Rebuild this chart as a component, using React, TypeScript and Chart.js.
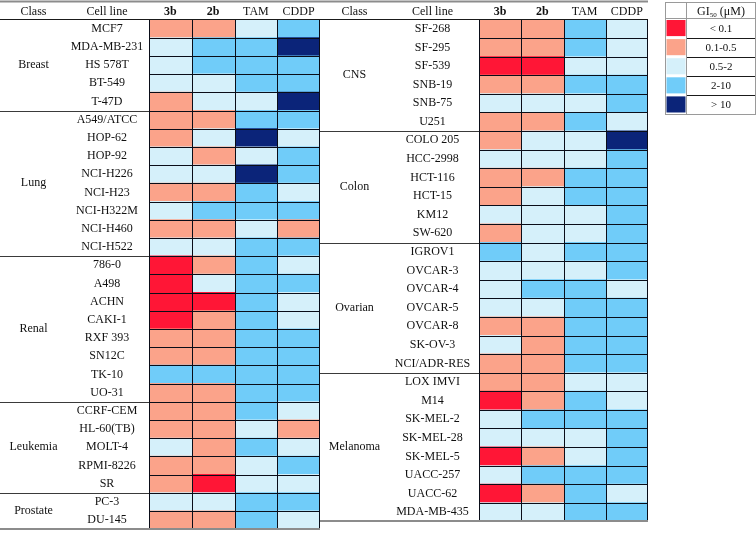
import React, { useEffect, useRef } from 'react';
import { Chart, registerables } from 'chart.js';

Chart.register(...registerables);

// ---------- data ----------
const columnNames = ['3b', '2b', 'TAM', 'CDDP'];
// GI50 level codes: 1 = <0.1, 2 = 0.1-0.5, 3 = 0.5-2, 4 = 2-10, 5 = >10 (µM)
const levelLabels = ['< 0.1', '0.1-0.5', '0.5-2', '2-10', '> 10'];
const levelColors = ['#FF1636', '#FBA38A', '#D5F0FA', '#70CCF9', '#0B2479'];

const leftClassNames = ['Breast', 'Lung', 'Renal', 'Leukemia', 'Prostate'];
const leftClassSizes = [5, 8, 8, 5, 2];
const leftCellLines = [
  'MCF7', 'MDA-MB-231', 'HS 578T', 'BT-549', 'T-47D',
  'A549/ATCC', 'HOP-62', 'HOP-92', 'NCI-H226', 'NCI-H23', 'NCI-H322M', 'NCI-H460', 'NCI-H522',
  '786-0', 'A498', 'ACHN', 'CAKI-1', 'RXF 393', 'SN12C', 'TK-10', 'UO-31',
  'CCRF-CEM', 'HL-60(TB)', 'MOLT-4', 'RPMI-8226', 'SR',
  'PC-3', 'DU-145',
];
const left3b = [2, 3, 3, 3, 2, 2, 2, 3, 3, 2, 3, 2, 3, 1, 1, 1, 1, 2, 2, 4, 2, 2, 2, 3, 2, 2, 3, 2];
const left2b = [2, 4, 4, 3, 3, 2, 3, 2, 3, 2, 4, 2, 3, 2, 3, 1, 2, 2, 2, 4, 2, 2, 2, 2, 2, 1, 3, 2];
const leftTAM = [3, 4, 4, 4, 3, 4, 5, 3, 5, 4, 4, 3, 4, 4, 4, 4, 4, 4, 4, 4, 4, 4, 3, 4, 3, 3, 4, 4];
const leftCDDP = [4, 5, 4, 4, 5, 4, 3, 4, 4, 3, 4, 2, 4, 3, 4, 3, 3, 4, 4, 4, 4, 3, 2, 3, 4, 3, 4, 3];

const rightClassNames = ['CNS', 'Colon', 'Ovarian', 'Melanoma'];
const rightClassSizes = [6, 6, 7, 8];
const rightCellLines = [
  'SF-268', 'SF-295', 'SF-539', 'SNB-19', 'SNB-75', 'U251',
  'COLO 205', 'HCC-2998', 'HCT-116', 'HCT-15', 'KM12', 'SW-620',
  'IGROV1', 'OVCAR-3', 'OVCAR-4', 'OVCAR-5', 'OVCAR-8', 'SK-OV-3', 'NCI/ADR-RES',
  'LOX IMVI', 'M14', 'SK-MEL-2', 'SK-MEL-28', 'SK-MEL-5', 'UACC-257', 'UACC-62', 'MDA-MB-435',
];
const right3b = [2, 2, 1, 2, 3, 2, 2, 3, 2, 2, 3, 2, 4, 3, 3, 3, 2, 3, 2, 2, 1, 3, 3, 1, 3, 1, 3];
const right2b = [2, 2, 1, 2, 3, 2, 3, 3, 2, 3, 3, 3, 3, 3, 4, 3, 2, 2, 2, 2, 2, 4, 3, 2, 4, 2, 3];
const rightTAM = [4, 4, 3, 4, 3, 4, 3, 3, 4, 4, 3, 3, 4, 3, 4, 4, 4, 4, 4, 3, 4, 4, 3, 3, 4, 4, 4];
const rightCDDP = [3, 3, 3, 4, 4, 3, 5, 4, 4, 4, 4, 4, 4, 4, 3, 4, 4, 4, 4, 3, 3, 4, 4, 4, 4, 3, 4];

// ---------- style / layout ----------
const FONT = '"Liberation Serif", "Times New Roman", serif';
const FONT_SIZE = 12;
const TEXT = '#111111';
const CELL_BORDER = '#0a0d18';
const SEP = '#3a3a3a';
const GRAY = '#8c8c8c';

type TableSpec = {
  cellLines: string[];
  classNames: string[];
  classSizes: number[];
  columns: number[][];
  offsetX: number;
  canvasW: number;
  dataLeft: number;
  dataRight: number;
  classCenter: number;
  labelCenter: number;
  lineStart: number;
  bottomPad: number;
  legend: boolean;
};

function widest(labels: string[]): number {
  const c = document.createElement('canvas');
  const g = c.getContext('2d')!;
  g.font = `${FONT_SIZE}px ${FONT}`;
  return Math.max(...labels.map((l) => g.measureText(l).width));
}

function buildChart(canvas: HTMLCanvasElement, s: TableSpec): Chart {
  const axisW = s.dataLeft - s.offsetX;
  const labelC = s.labelCenter - s.offsetX;
  const tickPad = axisW - labelC - widest(s.cellLines) / 2;
  const ox = s.offsetX;

  const tablePlugin = {
    id: 'tableDecor',
    afterDraw(chart: any) {
      const { ctx, chartArea, scales } = chart;
      const y = scales.y;
      const x = scales.x;
      const n = s.cellLines.length;
      const rowH = y.getPixelForValue(1) - y.getPixelForValue(0);
      const bound = (i: number) =>
        i < n ? y.getPixelForValue(i) - rowH / 2 : y.getPixelForValue(n - 1) + rowH / 2;
      const snap = (v: number) => Math.round(v) + 0.5;
      const x0 = s.lineStart - ox;
      const xr = s.dataRight - ox;
      ctx.save();

      // cell grid (from the scales)
      ctx.strokeStyle = CELL_BORDER;
      ctx.lineWidth = 1;
      ctx.beginPath();
      for (let i = 1; i < n; i++) {
        const yy = snap(bound(i));
        ctx.moveTo(chartArea.left, yy);
        ctx.lineTo(chartArea.right, yy);
      }
      for (let j = 0; j <= columnNames.length; j++) {
        const xx = Math.min(snap(x.getPixelForValue(j)), chartArea.right - 0.5);
        ctx.moveTo(xx, chartArea.top);
        ctx.lineTo(xx, chartArea.bottom);
      }
      ctx.stroke();

      // top rule
      ctx.strokeStyle = GRAY;
      ctx.lineWidth = 2;
      ctx.beginPath();
      ctx.moveTo(x0, 1.5);
      ctx.lineTo(xr, 1.5);
      ctx.stroke();
      // header rule
      ctx.strokeStyle = '#1a1a1a';
      ctx.lineWidth = 1;
      ctx.beginPath();
      ctx.moveTo(x0, snap(chartArea.top) - 1);
      ctx.lineTo(xr, snap(chartArea.top) - 1);
      ctx.stroke();
      // header text
      ctx.fillStyle = TEXT;
      ctx.font = `${FONT_SIZE}px ${FONT}`;
      ctx.textAlign = 'center';
      ctx.textBaseline = 'middle';
      const hy = chartArea.top - (FONT_SIZE * 1.2) / 2;
      ctx.fillText('Class', s.classCenter - ox, hy);
      ctx.fillText('Cell line', labelC, hy);
      // class labels and separators
      let start = 0;
      s.classNames.forEach((name, k) => {
        const end = start + s.classSizes[k];
        const yc = (bound(start) + bound(end)) / 2;
        ctx.fillStyle = TEXT;
        ctx.fillText(name, s.classCenter - ox, yc);
        if (k > 0) {
          ctx.strokeStyle = SEP;
          ctx.lineWidth = 1;
          ctx.beginPath();
          ctx.moveTo(x0, snap(bound(start)));
          ctx.lineTo(chartArea.left, snap(bound(start)));
          ctx.stroke();
        }
        start = end;
      });
      // bottom rule
      ctx.strokeStyle = GRAY;
      ctx.lineWidth = 2;
      ctx.beginPath();
      ctx.moveTo(x0, Math.round(chartArea.bottom));
      ctx.lineTo(xr, Math.round(chartArea.bottom));
      ctx.stroke();

      if (s.legend) {
        const lx0 = 665.5 - ox;
        const lx1 = 686.5 - ox;
        const lx2 = 755.5 - ox;
        const top = 2.5;
        const head = 18.5;
        const rh = 19.1;
        levelColors.forEach((col, i) => {
          const rt = head + i * rh;
          ctx.fillStyle = col;
          ctx.fillRect(lx0 + 1, rt + 1.5, lx1 - lx0 - 2, rh - 3);
        });
        ctx.strokeStyle = '#1a1a1a';
        ctx.lineWidth = 1;
        levelLabels.forEach((_, i) => {
          const rb = Math.round(head + (i + 1) * rh) + 0.5;
          ctx.beginPath();
          ctx.moveTo(lx1, rb);
          ctx.lineTo(lx2, rb);
          ctx.stroke();
        });
        ctx.strokeStyle = '#9a9a9a';
        ctx.lineWidth = 1;
        const lb = Math.round(head + levelLabels.length * rh) + 0.5;
        ctx.strokeRect(lx0, top, lx2 - lx0, lb - top);
        ctx.beginPath();
        ctx.moveTo(lx1, top);
        ctx.lineTo(lx1, lb);
        ctx.moveTo(lx0, head);
        ctx.lineTo(lx2, head);
        ctx.stroke();
        const tc = (lx1 + lx2) / 2;
        ctx.fillStyle = TEXT;
        ctx.textAlign = 'center';
        ctx.textBaseline = 'middle';
        ctx.font = `11px ${FONT}`;
        levelLabels.forEach((lab, i) => {
          ctx.fillText(lab, tc, head + i * rh + rh / 2 + 1);
        });
        ctx.textAlign = 'left';
        ctx.textBaseline = 'alphabetic';
        const big = `${FONT_SIZE}px ${FONT}`;
        const small = `7px ${FONT}`;
        ctx.font = big;
        const w1 = ctx.measureText('GI').width;
        const w3 = ctx.measureText(' (μM)').width;
        ctx.font = small;
        const w2 = ctx.measureText('50').width;
        let tx = tc - (w1 + w2 + w3) / 2;
        const by = 14.5;
        ctx.font = big;
        ctx.fillText('GI', tx, by);
        tx += w1;
        ctx.font = small;
        ctx.fillText('50', tx, by + 2.5);
        tx += w2;
        ctx.font = big;
        ctx.fillText(' (μM)', tx, by);
      }
      ctx.restore();
    },
  };

  return new Chart(canvas, {
    type: 'bar',
    data: {
      labels: s.cellLines,
      datasets: s.columns.map((vals, ci) => ({
        label: columnNames[ci],
        data: vals.map((code, r) => ({ x: 1, y: s.cellLines[r], code })),
        backgroundColor: (c: any) => levelColors[((c.raw && c.raw.code) || 1) - 1],
        borderWidth: 0,
        inflateAmount: 0.5,
        barPercentage: 1,
        categoryPercentage: 1,
      })) as any,
    },
    options: {
      indexAxis: 'y',
      animation: false,
      responsive: false,
      devicePixelRatio: 1,
      events: [],
      layout: {
        padding: {
          left: 0,
          top: 0,
          right: s.offsetX + s.canvasW - s.dataRight,
          bottom: s.bottomPad,
        },
      },
      plugins: { legend: { display: false }, tooltip: { enabled: false } },
      scales: {
        x: {
          type: 'linear',
          position: 'top',
          stacked: true,
          min: 0,
          max: columnNames.length,
          grid: { display: false, drawTicks: false },
          border: { display: false },
          afterFit: (sc: any) => {
            sc.height = 19.5;
          },
          afterBuildTicks: (sc: any) => {
            sc.ticks = columnNames.map((_, i) => ({ value: i + 0.5 }));
          },
          ticks: {
            autoSkip: false,
            maxRotation: 0,
            padding: 0,
            color: TEXT,
            callback: (_v: any, i: number) => columnNames[i],
            font: (c: any) => ({ family: FONT, size: FONT_SIZE, weight: c.index < 2 ? 'bold' : 'normal' }),
          },
        },
        y: {
          type: 'category',
          stacked: true,
          labels: s.cellLines,
          grid: { display: false, drawTicks: false },
          border: { display: false },
          afterFit: (sc: any) => {
            sc.width = axisW;
          },
          ticks: {
            autoSkip: false,
            crossAlign: 'center',
            padding: tickPad,
            color: TEXT,
            font: { family: FONT, size: FONT_SIZE },
          },
        },
      },
    } as any,
    plugins: [tablePlugin],
  });
}

const LEFT_W = 330;
const RIGHT_X = 318;
const RIGHT_W = 756 - RIGHT_X;

export default function App() {
  const leftRef = useRef<HTMLCanvasElement>(null);
  const rightRef = useRef<HTMLCanvasElement>(null);

  useEffect(() => {
    const left = buildChart(leftRef.current!, {
      cellLines: leftCellLines,
      classNames: leftClassNames,
      classSizes: leftClassSizes,
      columns: [left3b, left2b, leftTAM, leftCDDP],
      offsetX: 0,
      canvasW: LEFT_W,
      dataLeft: 149,
      dataRight: 320,
      classCenter: 33.5,
      labelCenter: 107,
      lineStart: 0,
      bottomPad: 2,
      legend: false,
    });
    const rowH = (540 - 19.5) / leftCellLines.length;
    const right = buildChart(rightRef.current!, {
      cellLines: rightCellLines,
      classNames: rightClassNames,
      classSizes: rightClassSizes,
      columns: [right3b, right2b, rightTAM, rightCDDP],
      offsetX: RIGHT_X,
      canvasW: RIGHT_W,
      dataLeft: 479,
      dataRight: 648,
      classCenter: 354.5,
      labelCenter: 432.5,
      lineStart: 320,
      bottomPad: 542 - (19.5 + rightCellLines.length * rowH),
      legend: true,
    });
    return () => {
      left.destroy();
      right.destroy();
    };
  }, []);

  return (
    <div style={{ position: 'absolute', left: 0, top: 0, width: 756, height: 542, background: '#ffffff' }}>
      <canvas
        ref={leftRef}
        width={LEFT_W}
        height={542}
        style={{ position: 'absolute', left: 0, top: 0, width: LEFT_W, height: 542 }}
      />
      <canvas
        ref={rightRef}
        width={RIGHT_W}
        height={542}
        style={{ position: 'absolute', left: RIGHT_X, top: 0, width: RIGHT_W, height: 542 }}
      />
    </div>
  );
}
